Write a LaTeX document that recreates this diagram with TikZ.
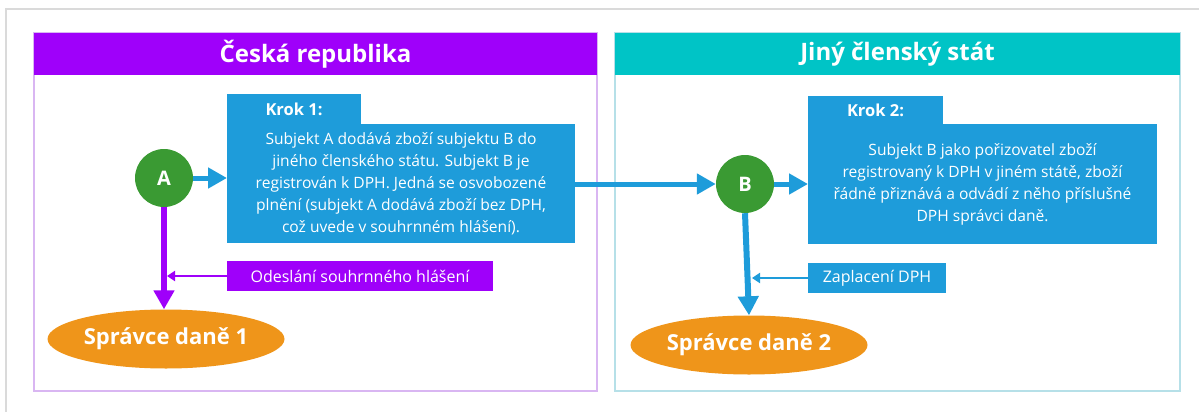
\documentclass[tikz,border=0pt]{standalone}
\usepackage{fontspec}
\setmainfont{Open Sans}
\usetikzlibrary{arrows.meta,shapes.geometric}
\definecolor{czpurple}{HTML}{9F00FA}
\definecolor{czline}{HTML}{D9B6F2}
\definecolor{msteal}{HTML}{00C4C6}
\definecolor{msline}{HTML}{B6E0E8}
\definecolor{stepblue}{HTML}{1E9CDA}
\definecolor{entgreen}{HTML}{3A9A33}
\definecolor{offorange}{HTML}{EF951A}
\definecolor{framegray}{HTML}{DADADA}
\tikzset{
  panel/.style={draw=#1,line width=1.5pt,anchor=north west,inner sep=0pt,outer sep=0pt,
    minimum height=358pt},
  headbar/.style={fill=#1,text=white,anchor=north west,inner sep=0pt,outer sep=0pt,
    minimum height=42pt,font=\bfseries\fontsize{24}{28}\selectfont},
  bluebox/.style={fill=stepblue,text=white,anchor=north west,inner sep=0pt,outer sep=0pt,
    align=center,font=\fontsize{15.6}{22}\selectfont},
  labelbox/.style={fill=#1,text=white,anchor=north west,inner sep=0pt,outer sep=0pt,
    minimum height=30pt,font=\fontsize{16}{19}\selectfont},
  entity/.style={circle,fill=entgreen,text=white,minimum size=58pt,inner sep=0pt,
    font=\bfseries\fontsize{20}{24}\selectfont},
  office/.style={ellipse,fill=offorange,text=white,inner sep=0pt,
    minimum width=237pt,minimum height=59pt,font=\bfseries\fontsize{22}{26}\selectfont},
  bigarrow/.style={draw=#1,line width=5pt,-{Triangle[width=20pt,length=19pt]}},
  smallarrow/.style={draw=#1,line width=2.2pt,-{Triangle[width=10pt,length=8pt]}}
}
\begin{document}
\begin{tikzpicture}[x=1pt,y=-1pt]
\useasboundingbox (0,0) rectangle (1199,412);
\draw[framegray,line width=1.5pt] (6,412) -- (6,9) -- (1199,9);

% the two states
\node[panel=czline,minimum width=563pt] (czpanel) at (34,33) {};
\node[headbar=czpurple,minimum width=563pt] (czhead) at (34,33) {Česká republika};
\node[panel=msline,minimum width=565pt] (mspanel) at (615,33) {};
\node[headbar=msteal,minimum width=565pt] (mshead) at (615,33) {Jiný členský stát};

% steps
\node[bluebox,minimum width=134pt,minimum height=31pt,font=\bfseries\fontsize{16.5}{19}\selectfont] (tab1) at (227,94) {Krok 1:};
\node[bluebox,minimum width=348pt,minimum height=119pt] (step1) at (227,124)
  {Subjekt A dodává zboží subjektu B do\\
   jiného členského státu. Subjekt B je\\
   registrován k DPH. Jedná se osvobozené\\
   plnění (subjekt A dodává zboží bez DPH,\\
   což uvede v souhrnném hlášení).};
\node[bluebox,minimum width=135pt,minimum height=29pt,font=\bfseries\fontsize{16.5}{19}\selectfont] (tab2) at (808,96) {Krok 2:};
\node[bluebox,minimum width=349pt,minimum height=120pt] (step2) at (808,124)
  {Subjekt B jako pořizovatel zboží\\
   registrovaný k DPH v jiném státě, zboží\\
   řádně přiznává a odvádí z něho příslušné\\
   DPH správci daně.};

% subjects and tax offices
\node[entity] (A) at (164,178) {A};
\node[entity] (B) at (745,184) {B};
\node[office] (sd1) at (166,339) {Správce daně 1};
\node[office] (sd2) at (749,345) {Správce daně 2};

\node[labelbox=czpurple,minimum width=266pt] (report) at (227,261) {Odeslání souhrnného hlášení};
\node[labelbox=stepblue,minimum width=138pt] (vatpay) at (808,263) {Zaplacení DPH};

% connectors
\draw[bigarrow=stepblue] (A.east) -- (step1.west |- A.east);
\draw[bigarrow=stepblue] (step1.east |- B.west) -- (B.west);
\draw[bigarrow=stepblue] (B.east) -- (step2.west |- B.east);
\draw[bigarrow=czpurple,line width=6pt] (A.south) -- (A.south |- sd1.north);
\draw[bigarrow=stepblue,line width=6pt] (B.south) -- (sd2.north);
\draw[smallarrow=czpurple,shorten >=3pt] (report.west) -- (report.west -| A.south);
\draw[smallarrow=stepblue,shorten >=3pt] (vatpay.west) -- (vatpay.west -| sd2.north);
\end{tikzpicture}
\end{document}
